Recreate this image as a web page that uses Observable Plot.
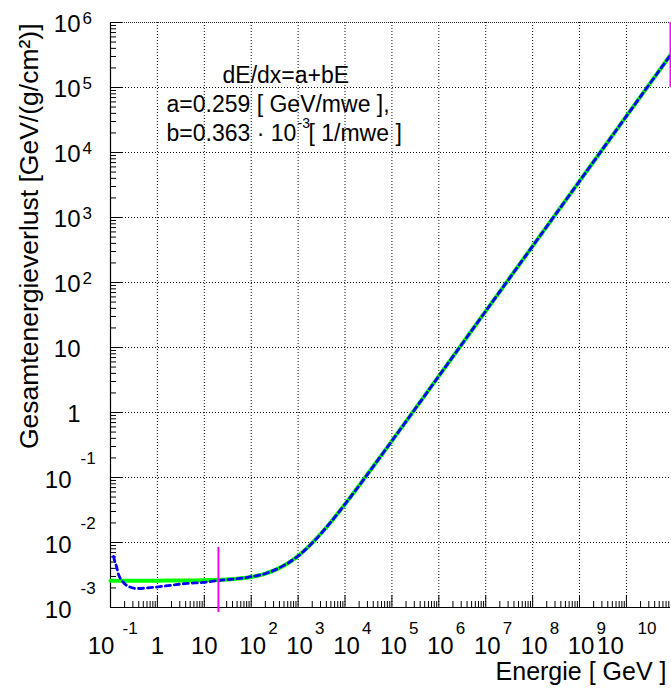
<!DOCTYPE html>
<html><head><meta charset="utf-8">
<script src="https://cdn.jsdelivr.net/npm/d3@7"></script>
<script src="https://cdn.jsdelivr.net/npm/@observablehq/plot@0.6"></script>
<style>body{margin:0;background:#fff} #chart svg{display:block;background:#fff}</style>
</head><body><div id="chart"></div>
<script>
// ---- data ----
const energyFit = [0.1, 0.3, 1, 3, 10, 30, 100, 150, 200, 300, 500, 700, 1000, 1500, 2000, 3000, 5000, 7000, 1e4, 2e4, 5e4, 1e5, 1e6, 1e7, 1e8, 1e9, 1e10, 8.7e10];
const lossFit   = [0.00259, 0.00259, 0.00259, 0.00260, 0.00263, 0.00270, 0.00295, 0.00313, 0.00332, 0.00368, 0.00441, 0.00513, 0.00622, 0.00804, 0.00985, 0.0135, 0.0207, 0.0280, 0.0389, 0.0752, 0.184, 0.366, 3.63, 36.3, 363, 3630, 36300, 316000];
const energyExact = [0.116, 0.125, 0.134, 0.148, 0.165, 0.18, 0.24, 0.376, 0.82, 1.89, 4.3, 9.5, 19.7, 50, 100, 200, 500, 1000, 2000, 5000, 1e4, 1e5, 1e6, 1e7, 1e8, 1e9, 1e10, 8.7e10];
const lossExact   = [0.0061, 0.0050, 0.0043, 0.00323, 0.00275, 0.00252, 0.00211, 0.00196, 0.00204, 0.00219, 0.00235, 0.00243, 0.00261, 0.00278, 0.00298, 0.00333, 0.00445, 0.0062, 0.0098, 0.0207, 0.0389, 0.366, 3.63, 36.3, 363, 3630, 36300, 316000];
const markerEnergy = [20, 8.7e10];
const markerLow    = [8.4e-4, 1e5];
const markerHigh   = [8.4e-3, 1e6];

const xTickExp  = [-1, 0, 1, 2, 3, 4, 5, 6, 7, 8, 9, 10];
const xTickBase = ["10", "1", "10", "10", "10", "10", "10", "10", "10", "10", "10", "10"];
const xTickSup  = ["-1", "", "", "2", "3", "4", "5", "6", "7", "8", "9", "10"];
const yTickExp  = [-3, -2, -1, 0, 1, 2, 3, 4, 5, 6];
const yTickBase = ["10", "10", "10", "1", "10", "10", "10", "10", "10", "10"];
const yTickSup  = ["-3", "-2", "-1", "", "", "2", "3", "4", "5", "6"];
const minorMult = [2, 3, 4, 5, 6, 7, 8, 9];

const xTitle = "Energie [ GeV ]";
const yTitle = "Gesamtenergieverlust [GeV/(g/cm²)]";
const formulaLines = ["dE/dx=a+bE", "a=0.259 [ GeV/mwe ],", "b=0.363 · 10", "-3", "[ 1/mwe ]"];

// ---- tables ----
const fit = energyFit.map((e, i) => ({e, v: lossFit[i]}));
const exact = energyExact.map((e, i) => ({e, v: lossExact[i]}));
const markers = markerEnergy.map((e, i) => ({e, lo: markerLow[i], hi: markerHigh[i]}));
const xTicks = xTickExp.map((k, i) => ({v: Math.pow(10, k), k, base: xTickBase[i], sup: xTickSup[i]}));
const yTicks = yTickExp.map((k, i) => ({v: Math.pow(10, k), k, base: yTickBase[i], sup: yTickSup[i]}));
const xMinor = xTickExp.flatMap(k => minorMult.map(m => m * Math.pow(10, k))).filter(v => v < 8.7e10);
const yMinor = yTickExp.slice(0, -1).flatMap(k => minorMult.map(m => m * Math.pow(10, k)));

const W = 671, H = 688, mL = 110, mR = 1, mT = 22, mB = 81;
const fw = W - mL - mR, fh = H - mT - mB;
const font = "Liberation Sans, Arial, Helvetica, sans-serif";
const gridStyle = {stroke: "#000", strokeWidth: 1, strokeDasharray: "1,2", strokeOpacity: 0.95};

const chart = Plot.plot({
  width: W, height: H,
  marginLeft: mL, marginRight: mR, marginTop: mT, marginBottom: mB,
  style: {fontFamily: font, background: "#fff", overflow: "visible"},
  x: {type: "log", domain: [0.1, 8.7e10], axis: null},
  y: {type: "log", domain: [1e-3, 1e6], axis: null},
  marks: [
    // grid
    Plot.ruleX(xTicks.filter(d => d.k > -1), {x: "v", ...gridStyle}),
    Plot.ruleY(yTicks.filter(d => d.k > -3 && d.k < 6), {y: "v", ...gridStyle}),
    Plot.ruleY(yTicks.filter(d => d.k === 6), {y: "v", stroke: "#000", strokeWidth: 1, strokeDasharray: "1,1", strokeOpacity: 0.85}),
    // ticks
    Plot.ruleX(xMinor, {x: d => d, insetTop: fh - 6, stroke: "#000", strokeWidth: 1}),
    Plot.ruleX(xTicks, {x: "v", insetTop: fh - 12, stroke: "#000", strokeWidth: 1}),
    Plot.ruleY(yMinor, {y: d => d, insetRight: fw - 6, stroke: "#000", strokeWidth: 1}),
    Plot.ruleY(yTicks, {y: "v", insetRight: fw - 12, stroke: "#000", strokeWidth: 1}),
    // axis lines
    Plot.ruleX([0.1], {stroke: "#000", strokeWidth: 1.2}),
    Plot.ruleY([1e-3], {stroke: "#000", strokeWidth: 1.2}),
    // curves
    Plot.line(fit, {x: "e", y: "v", stroke: "#00ff00", strokeWidth: 4, curve: "monotone-x"}),
    Plot.line(exact, {x: "e", y: "v", stroke: "#0000ff", strokeWidth: 2.8, strokeDasharray: "5,4", curve: "monotone-x"}),
    Plot.ruleX(markers, {x: "e", y1: "lo", y2: "hi", stroke: "#ff00ff", strokeWidth: 2}),
    // x tick labels
    Plot.text(xTicks.filter(d => d.k >= 2 && d.k <= 9), {x: "v", text: "base", frameAnchor: "bottom", dx: 1.5, dy: 46, textAnchor: "middle", lineAnchor: "bottom", fontSize: 24, fill: "#000"}),
    Plot.text(xTicks.filter(d => d.k >= 2 && d.k <= 9), {x: "v", text: "sup", frameAnchor: "bottom", dx: 17, dy: 26, textAnchor: "start", lineAnchor: "bottom", fontSize: 17, fill: "#000"}),
    Plot.text(xTicks.filter(d => d.k === 10), {x: "v", text: "base", frameAnchor: "bottom", dx: -16, dy: 46, textAnchor: "middle", lineAnchor: "bottom", fontSize: 24, fill: "#000"}),
    Plot.text(xTicks.filter(d => d.k === 10), {x: "v", text: "sup", frameAnchor: "bottom", dx: 11, dy: 26, textAnchor: "start", lineAnchor: "bottom", fontSize: 17, fill: "#000"}),
    Plot.text(xTicks.filter(d => d.k === -1), {x: "v", text: "base", frameAnchor: "bottom", dx: -9.5, dy: 46, textAnchor: "middle", lineAnchor: "bottom", fontSize: 24, fill: "#000"}),
    Plot.text(xTicks.filter(d => d.k === -1), {x: "v", text: "sup", frameAnchor: "bottom", dx: 12, dy: 26, textAnchor: "start", lineAnchor: "bottom", fontSize: 17, fill: "#000"}),
    Plot.text(xTicks.filter(d => d.k === 0 || d.k === 1), {x: "v", text: "base", frameAnchor: "bottom", dx: 0, dy: 46, textAnchor: "middle", lineAnchor: "bottom", fontSize: 24, fill: "#000"}),
    // y tick labels
    Plot.text(yTicks.filter(d => d.k >= 0), {y: "v", text: "base", frameAnchor: "left", dx: -30, dy: 9, textAnchor: "end", lineAnchor: "bottom", fontSize: 24, fill: "#000"}),
    Plot.text(yTicks.filter(d => d.k >= 2), {y: "v", text: "sup", frameAnchor: "left", dx: -28, dy: 1, textAnchor: "start", lineAnchor: "bottom", fontSize: 17, fill: "#000"}),
    Plot.text(yTicks.filter(d => d.k < 0), {y: "v", text: "base", frameAnchor: "left", dx: -39, dy: 10, textAnchor: "end", lineAnchor: "bottom", fontSize: 24, fill: "#000"}),
    Plot.text(yTicks.filter(d => d.k < 0), {y: "v", text: "sup", frameAnchor: "left", dx: -30, dy: -14, textAnchor: "start", lineAnchor: "bottom", fontSize: 17, fill: "#000"}),
    // titles
    Plot.text([xTitle], {text: d => d, frameAnchor: "bottom-right", dx: -4, dy: 72, textAnchor: "end", lineAnchor: "bottom", fontSize: 25, fill: "#000"}),
    Plot.text([yTitle], {text: d => d, frameAnchor: "top-left", dx: -73, dy: 1, rotate: -90, textAnchor: "end", lineAnchor: "bottom", fontSize: 26.5, fill: "#000"}),
    // formula annotation
    Plot.text([formulaLines[0]], {text: d => d, frameAnchor: "top-left", dx: 112, dy: 60, textAnchor: "start", lineAnchor: "bottom", fontSize: 23, fill: "#000"}),
    Plot.text([formulaLines[1]], {text: d => d, frameAnchor: "top-left", dx: 56, dy: 89, textAnchor: "start", lineAnchor: "bottom", fontSize: 23, fill: "#000"}),
    Plot.text([formulaLines[2]], {text: d => d, frameAnchor: "top-left", dx: 56, dy: 118, textAnchor: "start", lineAnchor: "bottom", fontSize: 23, fill: "#000"}),
    Plot.text([formulaLines[3]], {text: d => d, frameAnchor: "top-left", dx: 187, dy: 105, textAnchor: "start", lineAnchor: "bottom", fontSize: 14, fill: "#000"}),
    Plot.text([formulaLines[4]], {text: d => d, frameAnchor: "top-left", dx: 198, dy: 118, textAnchor: "start", lineAnchor: "bottom", fontSize: 23, fill: "#000"})
  ]
});
document.getElementById("chart").appendChild(chart);
</script>
</body></html>
